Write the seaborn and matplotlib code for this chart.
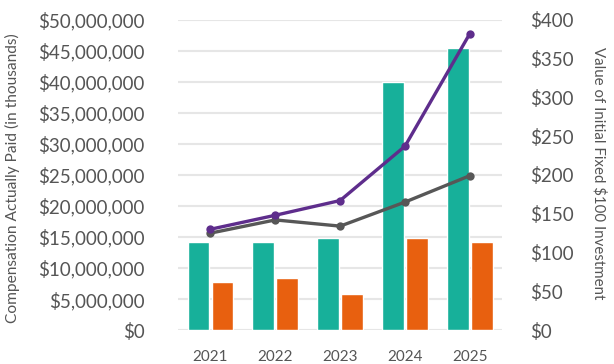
import numpy as np
import pandas as pd
import matplotlib
matplotlib.use("Agg")
import matplotlib.pyplot as plt
import seaborn as sns
from matplotlib.ticker import FuncFormatter, MultipleLocator

years = ["2021", "2022", "2023", "2024", "2025"]
peo_cap = [14.2e6, 14.2e6, 14.8e6, 39.9e6, 45.4e6]
neo_avg_cap = [7.7e6, 8.4e6, 5.8e6, 14.8e6, 14.2e6]
company_tsr = [130, 148, 167, 237, 382]
peer_tsr = [125, 142, 134, 165, 199]

teal = "#17b09a"
orange = "#e8600f"
purple = "#5e2d8c"
gray = "#575757"
text_col = "#555555"

sns.set_style("white")
plt.rcParams["font.family"] = ["Lato", "DejaVu Sans"]

bars = pd.DataFrame({
    "year": years * 2,
    "value": peo_cap + neo_avg_cap,
    "series": ["PEO"] * len(years) + ["NEO"] * len(years),
})

fig = plt.figure(figsize=(6.14, 3.64), dpi=100)
ax = fig.add_axes([0.29, 0.093, 0.528, 0.853])

sns.barplot(data=bars, x="year", y="value", hue="series",
            palette=[teal, orange], width=0.74, gap=0.09,
            saturation=1, legend=False, ax=ax, zorder=2)

ax.set_ylim(0, 50e6)
ax.set_xlim(-0.5, 4.5)
ax.yaxis.set_major_locator(MultipleLocator(5e6))
ax.yaxis.set_major_formatter(FuncFormatter(lambda v, p: f"${v:,.0f}"))
ax.grid(axis="y", color="#e6e6e6", lw=1.5, zorder=0)
ax.set_axisbelow(True)
for s in ax.spines.values():
    s.set_visible(False)
ax.tick_params(axis="y", length=0, pad=24, labelsize=13.5, labelcolor=text_col)
ax.tick_params(axis="x", length=0, pad=14, labelsize=11, labelcolor=text_col)
ax.set_xlabel("")
ax.set_ylabel("")

ax2 = ax.twinx()
xpos = np.arange(len(years))
sns.lineplot(x=xpos, y=peer_tsr, color=gray, lw=2.4, marker="o",
             markersize=6, markeredgewidth=0, ax=ax2)
sns.lineplot(x=xpos, y=company_tsr, color=purple, lw=2.4, marker="o",
             markersize=6, markeredgewidth=0, ax=ax2)
ax2.set_ylim(0, 400)
ax2.yaxis.set_major_locator(MultipleLocator(50))
ax2.yaxis.set_major_formatter(FuncFormatter(lambda v, p: f"${v:,.0f}"))
for s in ax2.spines.values():
    s.set_visible(False)
ax2.tick_params(axis="y", length=0, pad=20, labelsize=13.5, labelcolor=text_col)
ax2.set_ylabel("")

fig.text(0.0195, 0.512, "Compensation Actually Paid (in thousands)",
         rotation=90, ha="center", va="center", fontsize=11.2, color=text_col)
fig.text(0.9756, 0.523, "Value of Initial Fixed $100 Investment",
         rotation=270, ha="center", va="center", fontsize=10.8, color=text_col)

fig.savefig("out.png", dpi=100)
